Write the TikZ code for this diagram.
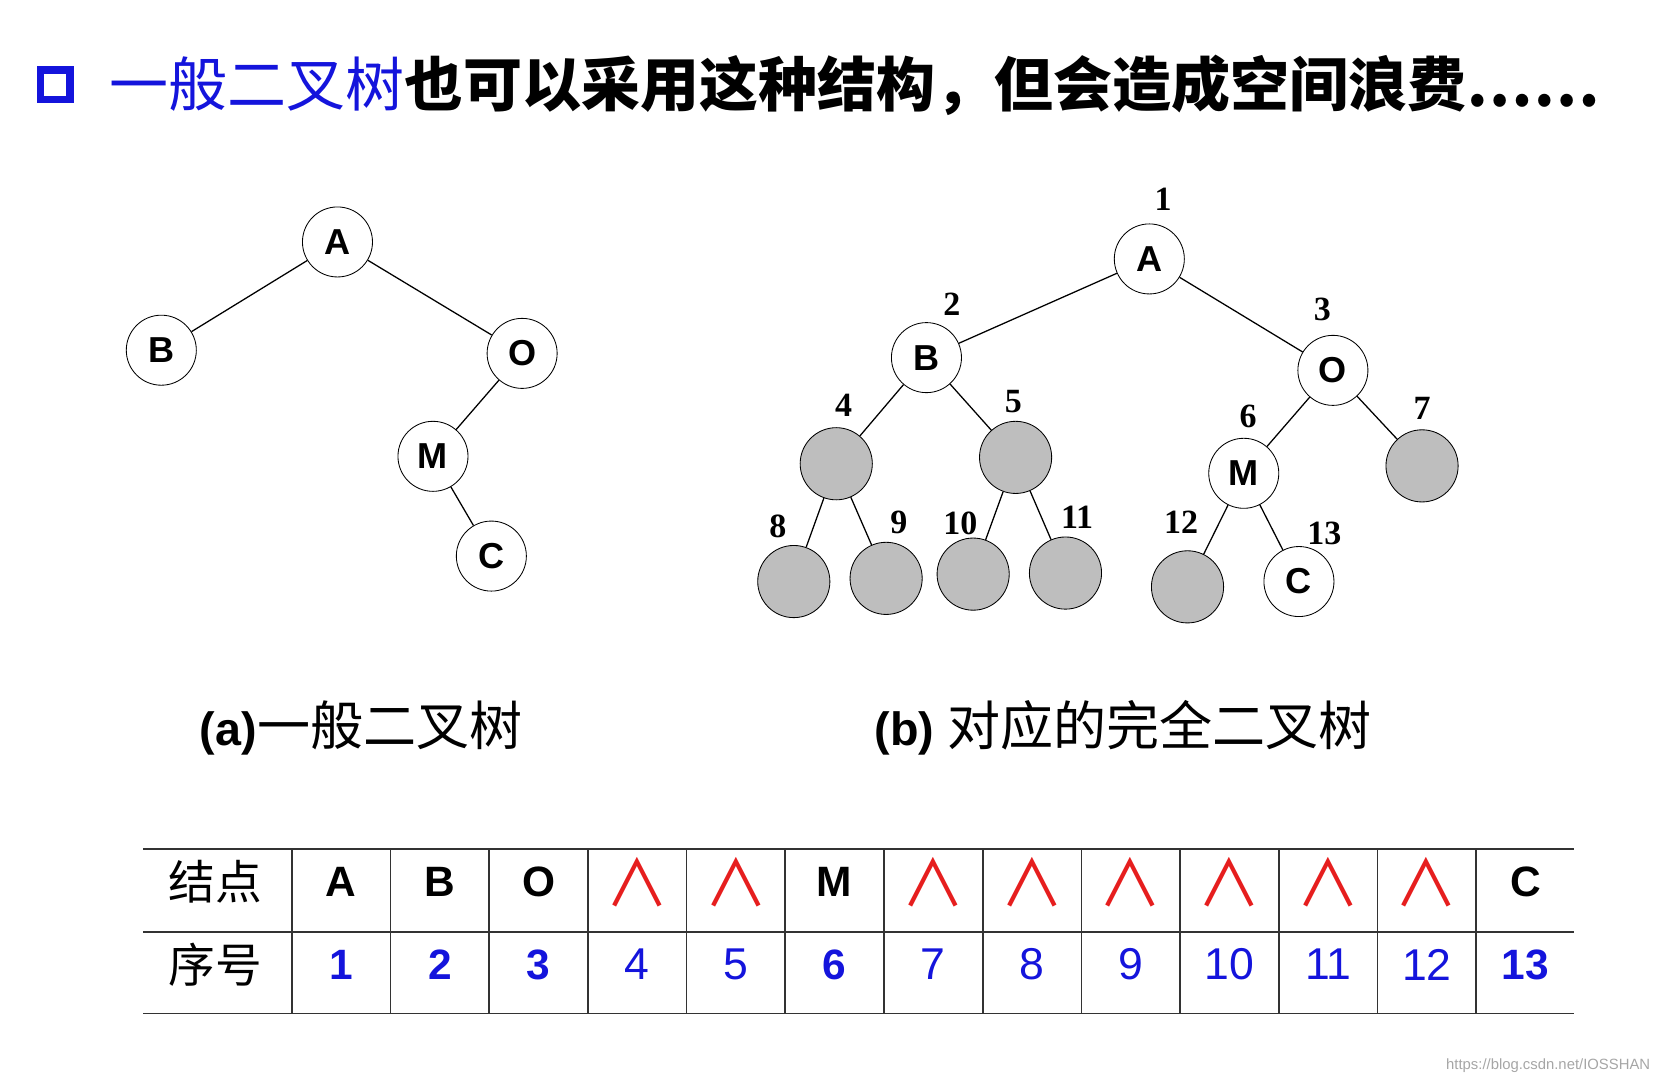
\documentclass[tikz,border=0pt]{standalone}
\usepackage{fontspec}
\setmainfont{Liberation Serif}
\setsansfont{Liberation Sans}
\newfontfamily\cjk{Noto Sans CJK SC}
\newfontfamily\dvs{DejaVu Sans}
\definecolor{tblue}{RGB}{20,20,220}
\definecolor{tred}{RGB}{230,30,30}
\definecolor{nodegray}{RGB}{190,190,190}
\begin{document}
\begin{tikzpicture}[x=0.5pt,y=-0.5pt,
  tn/.style={circle,draw,fill=white,minimum size=33pt,inner sep=0pt,font=\sffamily\bfseries\fontsize{17}{17}\selectfont},
  gn/.style={circle,draw,fill=nodegray,minimum size=34pt,inner sep=0pt},
  num/.style={font=\rmfamily\bfseries\fontsize{16}{16}\selectfont},
  edge/.style={draw,line width=0.6pt},
  cell/.style={font=\sffamily\bfseries\fontsize{20}{20}\selectfont},
  hat/.style={font=\cjk\fontsize{30}{30}\selectfont,text=tred},
  bn/.style={font=\sffamily\bfseries\fontsize{20}{20}\selectfont,text=tblue},
  ln/.style={font=\sffamily\fontsize{21}{21}\selectfont,text=tblue},
  line/.style={line width=0.8pt,draw=black!80}]
\useasboundingbox (0,0) rectangle (1568,1020);
% title
\node[draw=tblue,line width=3.5pt,minimum size=14pt,inner sep=0pt] (sq) at (52,80) {};
\node[anchor=west,inner sep=0pt,font=\cjk\fontsize{27.8}{28}\selectfont] (title) at (103,80) {\textcolor{tblue}{一般二叉树}\textbf{也可以采用这种结构，但会造成空间浪费……}};
% tree a
\node[tn] (aA) at (318,228) {A};
\node[tn] (aB) at (152,330) {B};
\node[tn] (aO) at (492,333) {O};
\node[tn] (aM) at (408,430) {M};
\node[tn] (aC) at (463,524) {C};
\draw[edge] (aA)--(aB); \draw[edge] (aA)--(aO); \draw[edge] (aO)--(aM); \draw[edge] (aM)--(aC);
% tree b
\node[tn] (bA) at (1083,244) {A};
\node[tn] (bB) at (873,337) {B};
\node[tn] (bO) at (1256,349) {O};
\node[gn] (b4) at (788,437) {};
\node[gn] (b5) at (957,431) {};
\node[tn] (bM) at (1172,446) {M};
\node[gn] (b7) at (1340,439) {};
\node[gn] (b8) at (748,548) {};
\node[gn] (b9) at (835,545) {};
\node[gn] (b10) at (917,541) {};
\node[gn] (b11) at (1004,540) {};
\node[gn] (b12) at (1119,553) {};
\node[tn] (bC) at (1224,548) {C};
\foreach \a/\b in {bA/bB,bA/bO,bB/b4,bB/b5,bO/bM,bO/b7,b4/b8,b4/b9,b5/b10,b5/b11,bM/b12,bM/bC}
  \draw[edge] (\a)--(\b);
\node[num] (l1) at (1096,188) {1};
\node[num] (l2) at (897,287) {2};
\node[num] (l3) at (1246,292) {3};
\node[num] (l4) at (795,382) {4};
\node[num] (l5) at (955,378) {5};
\node[num] (l6) at (1176,392) {6};
\node[num] (l7) at (1340,385) {7};
\node[num] (l8) at (733,496) {8};
\node[num] (l9) at (847,492) {9};
\node[num] (l10) at (905,493) {10};
\node[num] (l11) at (1015,487) {11};
\node[num] (l12) at (1113,492) {12};
\node[num] (l13) at (1248,503) {13};
% captions
\node[anchor=west,inner sep=0pt] (capa) at (188,686) {\fontsize{22}{22}\selectfont\sffamily\bfseries (a)\cjk\mdseries\fontsize{25}{25}\selectfont 一般二叉树};
\node[anchor=west,inner sep=0pt] (capb) at (824,686) {\fontsize{22}{22}\selectfont\sffamily\bfseries (b) \cjk\mdseries\fontsize{25}{25}\selectfont 对应的完全二叉树};
% table
\foreach \y in {800,878,955} \draw[line] (135,\y)--(1483,\y);
\foreach \x in {275,368,461,554,647,740,833,926,1019,1112,1205,1298,1391} \draw[line] (\x,800)--(\x,955);
\node[font=\cjk\fontsize{22}{22}\selectfont] (h1) at (203,831) {结点};
\node[font=\cjk\fontsize{22}{22}\selectfont] (h2) at (203,909) {序号};
\foreach \i/\t/\s in {0/A/cell,1/B/cell,2/O/cell,3/∧/hat,4/∧/hat,5/M/cell,6/∧/hat,7/∧/hat,8/∧/hat,9/∧/hat,10/∧/hat,11/∧/hat,12/C/cell}
  \node[\s] (c\i) at (321.5+93*\i,831) {\t};
\foreach \i/\t/\s in {0/1/bn,1/2/bn,2/3/bn,3/4/ln,4/5/ln,5/6/bn,6/7/ln,7/8/ln,8/9/ln,9/10/ln,10/11/ln,11/12/ln,12/13/bn}
  \node[\s] (n\i) at (321.5+93*\i,909) {\t};
\node[anchor=east,font=\sffamily\fontsize{7}{7}\selectfont,text=black!35] (wm) at (1562,1004) {https://blog.csdn.net/IOSSHAN};
\end{tikzpicture}
\end{document}
